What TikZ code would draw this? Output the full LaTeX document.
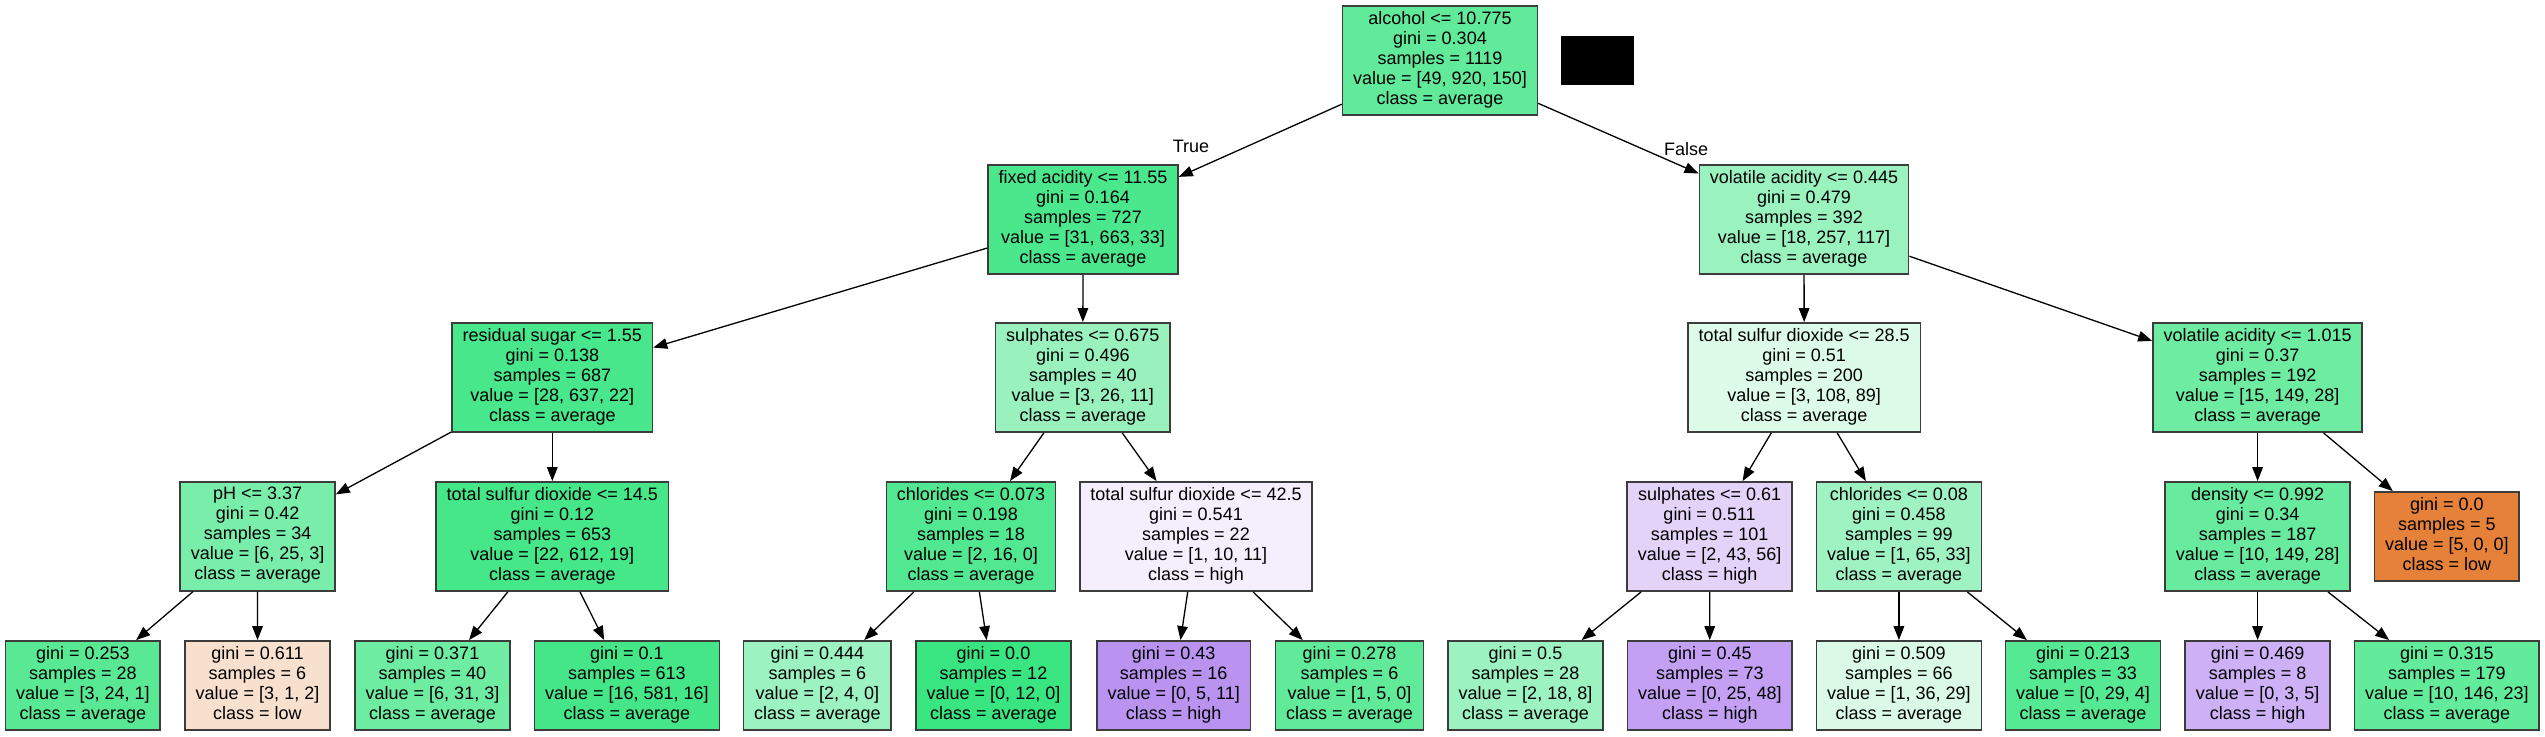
\documentclass[tikz,border=0pt]{standalone}
\usepackage{fontspec}
\setmainfont{Liberation Sans}
\usetikzlibrary{arrows.meta}
\definecolor{cRoot}{RGB}{98,234,155}
\definecolor{cFA}{RGB}{75,231,141}
\definecolor{cVAa}{RGB}{154,242,191}
\definecolor{cRS}{RGB}{72,231,139}
\definecolor{cSUa}{RGB}{153,242,190}
\definecolor{cTSDb}{RGB}{221,251,233}
\definecolor{cVAb}{RGB}{109,236,162}
\definecolor{cPH}{RGB}{121,237,170}
\definecolor{cTSDa}{RGB}{70,231,137}
\definecolor{cCLa}{RGB}{82,232,145}
\definecolor{cTSDc}{RGB}{245,239,253}
\definecolor{cSUb}{RGB}{227,211,249}
\definecolor{cCLb}{RGB}{159,242,194}
\definecolor{cDEN}{RGB}{104,235,159}
\definecolor{cLOW}{RGB}{229,129,57}
\definecolor{cLa}{RGB}{89,233,149}
\definecolor{cLb}{RGB}{248,224,206}
\definecolor{cLc}{RGB}{109,236,162}
\definecolor{cLd}{RGB}{68,230,136}
\definecolor{cLe}{RGB}{156,242,192}
\definecolor{cLf}{RGB}{57,229,129}
\definecolor{cLg}{RGB}{186,147,241}
\definecolor{cLh}{RGB}{97,234,154}
\definecolor{cLi}{RGB}{156,242,192}
\definecolor{cLj}{RGB}{195,160,243}
\definecolor{cLk}{RGB}{218,250,231}
\definecolor{cLl}{RGB}{84,233,146}
\definecolor{cLm}{RGB}{205,176,245}
\definecolor{cLn}{RGB}{99,235,156}
\definecolor{cBorder}{RGB}{60,60,60}
\begin{document}
\begin{tikzpicture}[x=0.5pt,y=-0.5pt,
  tn/.style={rectangle, draw=cBorder, line width=0.8pt, inner xsep=5.3pt, inner ysep=2.55pt,
    align=center, font=\fontsize{9}{10}\selectfont,
    execute at begin node=\strut, execute at end node=\strut},
  ed/.style={draw=black, line width=0.65pt, -{Triangle[length=7pt,width=5.3pt]}},
  lbl/.style={font=\fontsize{9}{10}\selectfont, inner sep=0pt}]
\fill[white] (0,0) rectangle (2545,736);
\useasboundingbox (0,0) rectangle (2545,736);
% row 0
\node[tn, fill=cRoot] (root) at (1440,60.5) {alcohol <= 10.775\\gini = 0.304\\samples = 1119\\value = [49, 920, 150]\\class = average};
\node[fill=black, minimum width=36.5pt, minimum height=24.5pt, inner sep=0pt] (blk) at (1597.5,60.5) {};
% row 1
\node[tn, fill=cFA] (fa) at (1083,219.5) {fixed acidity <= 11.55\\gini = 0.164\\samples = 727\\value = [31, 663, 33]\\class = average};
\node[tn, fill=cVAa] (va1) at (1804,219.5) {volatile acidity <= 0.445\\gini = 0.479\\samples = 392\\value = [18, 257, 117]\\class = average};
% row 2
\node[tn, fill=cRS] (rs) at (552.3,377.5) {residual sugar <= 1.55\\gini = 0.138\\samples = 687\\value = [28, 637, 22]\\class = average};
\node[tn, fill=cSUa] (su1) at (1082.8,377.5) {sulphates <= 0.675\\gini = 0.496\\samples = 40\\value = [3, 26, 11]\\class = average};
\node[tn, fill=cTSDb] (tsd28) at (1804.2,377.5) {total sulfur dioxide <= 28.5\\gini = 0.51\\samples = 200\\value = [3, 108, 89]\\class = average};
\node[tn, fill=cVAb] (va2) at (2257.6,377.5) {volatile acidity <= 1.015\\gini = 0.37\\samples = 192\\value = [15, 149, 28]\\class = average};
% row 3
\node[tn, fill=cPH] (ph) at (257.6,536.5) {pH <= 3.37\\gini = 0.42\\samples = 34\\value = [6, 25, 3]\\class = average};
\node[tn, fill=cTSDa] (tsd14) at (552.3,536.5) {total sulfur dioxide <= 14.5\\gini = 0.12\\samples = 653\\value = [22, 612, 19]\\class = average};
\node[tn, fill=cCLa] (cl1) at (971,536.5) {chlorides <= 0.073\\gini = 0.198\\samples = 18\\value = [2, 16, 0]\\class = average};
\node[tn, fill=cTSDc] (tsd42) at (1196,536.5) {total sulfur dioxide <= 42.5\\gini = 0.541\\samples = 22\\value = [1, 10, 11]\\class = high};
\node[tn, fill=cSUb] (su2) at (1709.6,536.5) {sulphates <= 0.61\\gini = 0.511\\samples = 101\\value = [2, 43, 56]\\class = high};
\node[tn, fill=cCLb] (cl2) at (1898.9,536.5) {chlorides <= 0.08\\gini = 0.458\\samples = 99\\value = [1, 65, 33]\\class = average};
\node[tn, fill=cDEN] (den) at (2257.6,536.5) {density <= 0.992\\gini = 0.34\\samples = 187\\value = [10, 149, 28]\\class = average};
\node[tn, fill=cLOW] (lowleaf) at (2446.8,536.5) {gini = 0.0\\samples = 5\\value = [5, 0, 0]\\class = low};
% row 4
\node[tn, fill=cLa] (l1) at (82.9,685.5) {gini = 0.253\\samples = 28\\value = [3, 24, 1]\\class = average};
\node[tn, fill=cLb] (l2) at (257.5,685.5) {gini = 0.611\\samples = 6\\value = [3, 1, 2]\\class = low};
\node[tn, fill=cLc] (l3) at (432.5,685.5) {gini = 0.371\\samples = 40\\value = [6, 31, 3]\\class = average};
\node[tn, fill=cLd] (l4) at (626.9,685.5) {gini = 0.1\\samples = 613\\value = [16, 581, 16]\\class = average};
\node[tn, fill=cLe] (l5) at (817.4,685.5) {gini = 0.444\\samples = 6\\value = [2, 4, 0]\\class = average};
\node[tn, fill=cLf] (l6) at (993.5,685.5) {gini = 0.0\\samples = 12\\value = [0, 12, 0]\\class = average};
\node[tn, fill=cLg] (l7) at (1173.7,685.5) {gini = 0.43\\samples = 16\\value = [0, 5, 11]\\class = high};
\node[tn, fill=cLh] (l8) at (1349.5,685.5) {gini = 0.278\\samples = 6\\value = [1, 5, 0]\\class = average};
\node[tn, fill=cLi] (l9) at (1525.5,685.5) {gini = 0.5\\samples = 28\\value = [2, 18, 8]\\class = average};
\node[tn, fill=cLj] (l10) at (1709.8,685.5) {gini = 0.45\\samples = 73\\value = [0, 25, 48]\\class = high};
\node[tn, fill=cLk] (l11) at (1898.9,685.5) {gini = 0.509\\samples = 66\\value = [1, 36, 29]\\class = average};
\node[tn, fill=cLl] (l12) at (2083,685.5) {gini = 0.213\\samples = 33\\value = [0, 29, 4]\\class = average};
\node[tn, fill=cLm] (l13) at (2257.6,685.5) {gini = 0.469\\samples = 8\\value = [0, 3, 5]\\class = high};
\node[tn, fill=cLn] (l14) at (2446.8,685.5) {gini = 0.315\\samples = 179\\value = [10, 146, 23]\\class = average};
% edge labels
\node[lbl] (ltrue) at (1191,146.7) {True};
\node[lbl] (lfalse) at (1686,149.3) {False};
% edges
\draw[ed] (root) -- (fa);
\draw[ed] (root) -- (va1);
\draw[ed] (fa) -- (rs);
\draw[ed] (fa) -- (su1);
\draw[ed] (rs) -- (ph);
\draw[ed] (rs) -- (tsd14);
\draw[ed] (ph) -- (l1);
\draw[ed] (ph) -- (l2);
\draw[ed] (tsd14) -- (l3);
\draw[ed] (tsd14) -- (l4);
\draw[ed] (su1) -- (cl1);
\draw[ed] (su1) -- (tsd42);
\draw[ed] (cl1) -- (l5);
\draw[ed] (cl1) -- (l6);
\draw[ed] (tsd42) -- (l7);
\draw[ed] (tsd42) -- (l8);
\draw[ed] (va1) -- (tsd28);
\draw[ed] (va1) -- (va2);
\draw[ed] (tsd28) -- (su2);
\draw[ed] (tsd28) -- (cl2);
\draw[ed] (su2) -- (l9);
\draw[ed] (su2) -- (l10);
\draw[ed] (cl2) -- (l11);
\draw[ed] (cl2) -- (l12);
\draw[ed] (va2) -- (den);
\draw[ed] (va2) -- (lowleaf);
\draw[ed] (den) -- (l13);
\draw[ed] (den) -- (l14);
\end{tikzpicture}
\end{document}
